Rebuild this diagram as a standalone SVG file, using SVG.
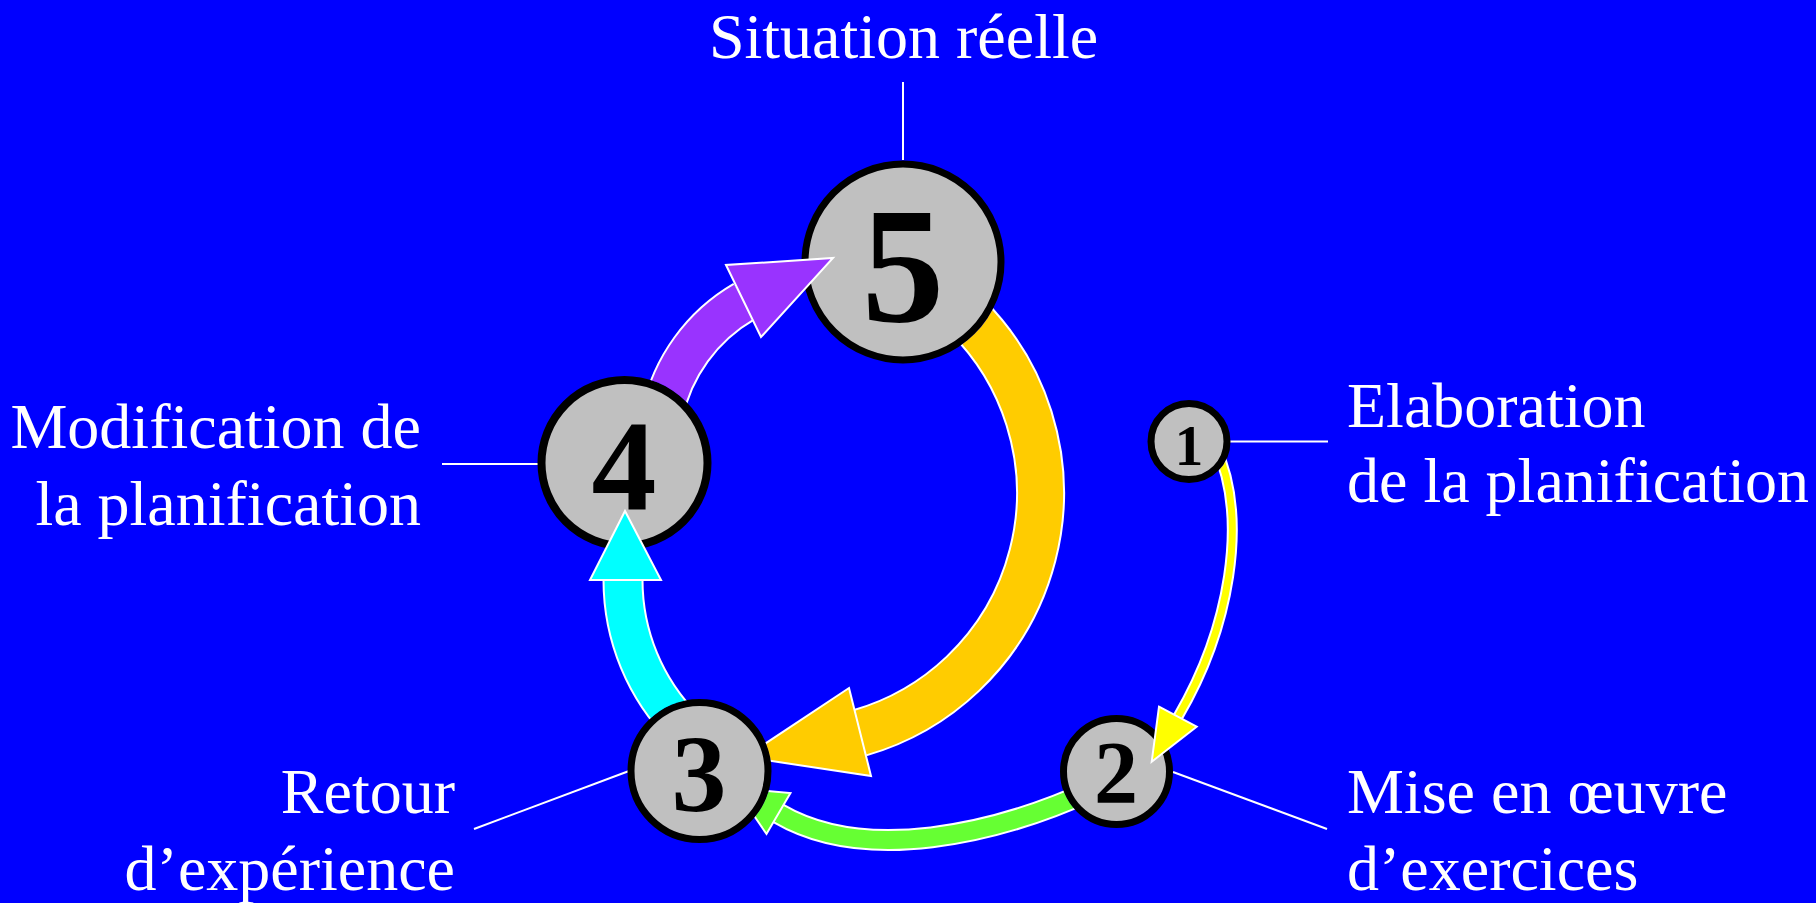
<svg xmlns="http://www.w3.org/2000/svg" width="1816" height="903" viewBox="0 0 1816 903">
<style>
.node{fill:#C0C0C0;stroke:#000}
.num{font-family:"Liberation Serif","Times New Roman",serif;font-weight:bold;fill:#000;text-anchor:middle}
.lbl{font-family:"Liberation Serif","Times New Roman",serif;font-size:64px;fill:#fff}
.lead{stroke:#fff;stroke-width:2;fill:none}
.edge{fill:none;stroke:#fff}
.head{stroke:#fff;stroke-width:2;stroke-linejoin:miter}
</style>
<defs>
<mask id="m-orange" maskUnits="userSpaceOnUse" x="0" y="0" width="1816" height="903">
<rect width="1816" height="903" fill="#fff"/><circle cx="903" cy="262" r="101.5" fill="#000"/><circle cx="699.5" cy="771" r="72" fill="#000"/>
</mask>
<mask id="m-purple" maskUnits="userSpaceOnUse" x="0" y="0" width="1816" height="903">
<rect width="1816" height="903" fill="#fff"/><circle cx="624.5" cy="463" r="87" fill="#000"/>
</mask>
<mask id="m-cyan" maskUnits="userSpaceOnUse" x="0" y="0" width="1816" height="903">
<rect width="1816" height="903" fill="#fff"/><circle cx="699.5" cy="771" r="72" fill="#000"/>
</mask>
<mask id="m-green" maskUnits="userSpaceOnUse" x="0" y="0" width="1816" height="903">
<rect width="1816" height="903" fill="#fff"/><circle cx="1116.5" cy="771.5" r="56.5" fill="#000"/><circle cx="699.5" cy="771" r="72" fill="#000"/>
</mask>
<mask id="m-yellow" maskUnits="userSpaceOnUse" x="0" y="0" width="1816" height="903">
<rect width="1816" height="903" fill="#fff"/><circle cx="1189" cy="441.5" r="41.5" fill="#000"/>
</mask>
</defs>
<rect width="1816" height="903" fill="#0000FF"/>

<g id="node5">
<line class="lead" x1="903" y1="82" x2="903" y2="160"/>
<circle class="node" cx="903" cy="262" r="98" stroke-width="7"/>
<text class="num" x="903" y="321" font-size="165">5</text>
<text class="lbl" x="903.5" y="58" text-anchor="middle">Situation réelle</text>
</g>
<g id="node4">
<line class="lead" x1="442" y1="464" x2="538" y2="464"/>
<circle class="node" cx="624.5" cy="463" r="83" stroke-width="8"/>
<text class="num" x="624" y="510" font-size="130">4</text>
<text class="lbl" x="421" y="448" text-anchor="end">Modification de</text>
<text class="lbl" x="421" y="525" text-anchor="end">la planification</text>
</g>
<g id="node3">
<line class="lead" x1="474" y1="829" x2="629" y2="771"/>
<circle class="node" cx="699.5" cy="771" r="68.5" stroke-width="7"/>
<text class="num" x="699" y="811" font-size="110">3</text>
<text class="lbl" x="455" y="813" text-anchor="end">Retour</text>
<text class="lbl" x="455" y="890" text-anchor="end">d’expérience</text>
</g>
<g id="node2">
<line class="lead" x1="1173" y1="772" x2="1327" y2="829"/>
<circle class="node" cx="1116.5" cy="771.5" r="53" stroke-width="7"/>
<text class="num" x="1116" y="802" font-size="88">2</text>
<text class="lbl" x="1347" y="813">Mise en œuvre</text>
<text class="lbl" x="1347" y="890">d’exercices</text>
</g>
<g id="node1">
<line class="lead" x1="1230" y1="441.5" x2="1328" y2="441.5"/>
<circle class="node" cx="1189" cy="441.5" r="38" stroke-width="7"/>
<text class="num" x="1189" y="465" font-size="57">1</text>
<text class="lbl" x="1347" y="427">Elaboration</text>
<text class="lbl" x="1347" y="502">de la planification</text>
</g>

<g id="connectors">
<g id="edge-5-3" mask="url(#m-orange)">
<path class="edge" d="M967.4 316.6 A249.5 249.5 0 0 1 859.8 732.8" stroke-width="49"/>
<path d="M967.4 316.6 A249.5 249.5 0 0 1 859.8 732.8" fill="none" stroke="#FFCC00" stroke-width="45"/>
<polygon class="head" fill="#FFCC00" points="849,688 871,776 745,757"/>
</g>
<g id="edge-4-5" mask="url(#m-purple)">
<path class="edge" d="M662.3 414.3 A171.5 171.5 0 0 1 744 301.6" stroke-width="43"/>
<path d="M662.3 414.3 A171.5 171.5 0 0 1 744 301.6" fill="none" stroke="#9933FF" stroke-width="39"/>
<polygon class="head" fill="#9933FF" points="726,265 761,337 833,258"/>
</g>
<g id="edge-3-4" mask="url(#m-cyan)">
<path class="edge" d="M684.5 728.5 A210 210 0 0 1 623 580" stroke-width="41"/>
<path d="M684.5 728.5 A210 210 0 0 1 623 580" fill="none" stroke="#00FFFF" stroke-width="37"/>
<polygon class="head" fill="#00FFFF" points="590,580 661,580 625,511"/>
</g>
<g id="edge-2-3" mask="url(#m-green)">
<path class="edge" d="M1095 789 C995 834.7 864.8 864 778.5 813.5" stroke-width="22"/>
<path d="M1095 789 C995 834.7 864.8 864 778.5 813.5" fill="none" stroke="#66FF33" stroke-width="18"/>
<polygon class="head" fill="#66FF33" points="790.5,793 766.5,834 735,788"/>
</g>
<g id="edge-1-2" mask="url(#m-yellow)">
<path class="edge" d="M1215 445 C1250 520 1228.5 630.4 1178 716.7" stroke-width="11"/>
<path d="M1215 445 C1250 520 1228.5 630.4 1178 716.7" fill="none" stroke="#FFFF00" stroke-width="7"/>
<polygon class="head" fill="#FFFF00" points="1159,706.7 1196.7,726.7 1151.7,761.7"/>
</g>
</g>
</svg>
